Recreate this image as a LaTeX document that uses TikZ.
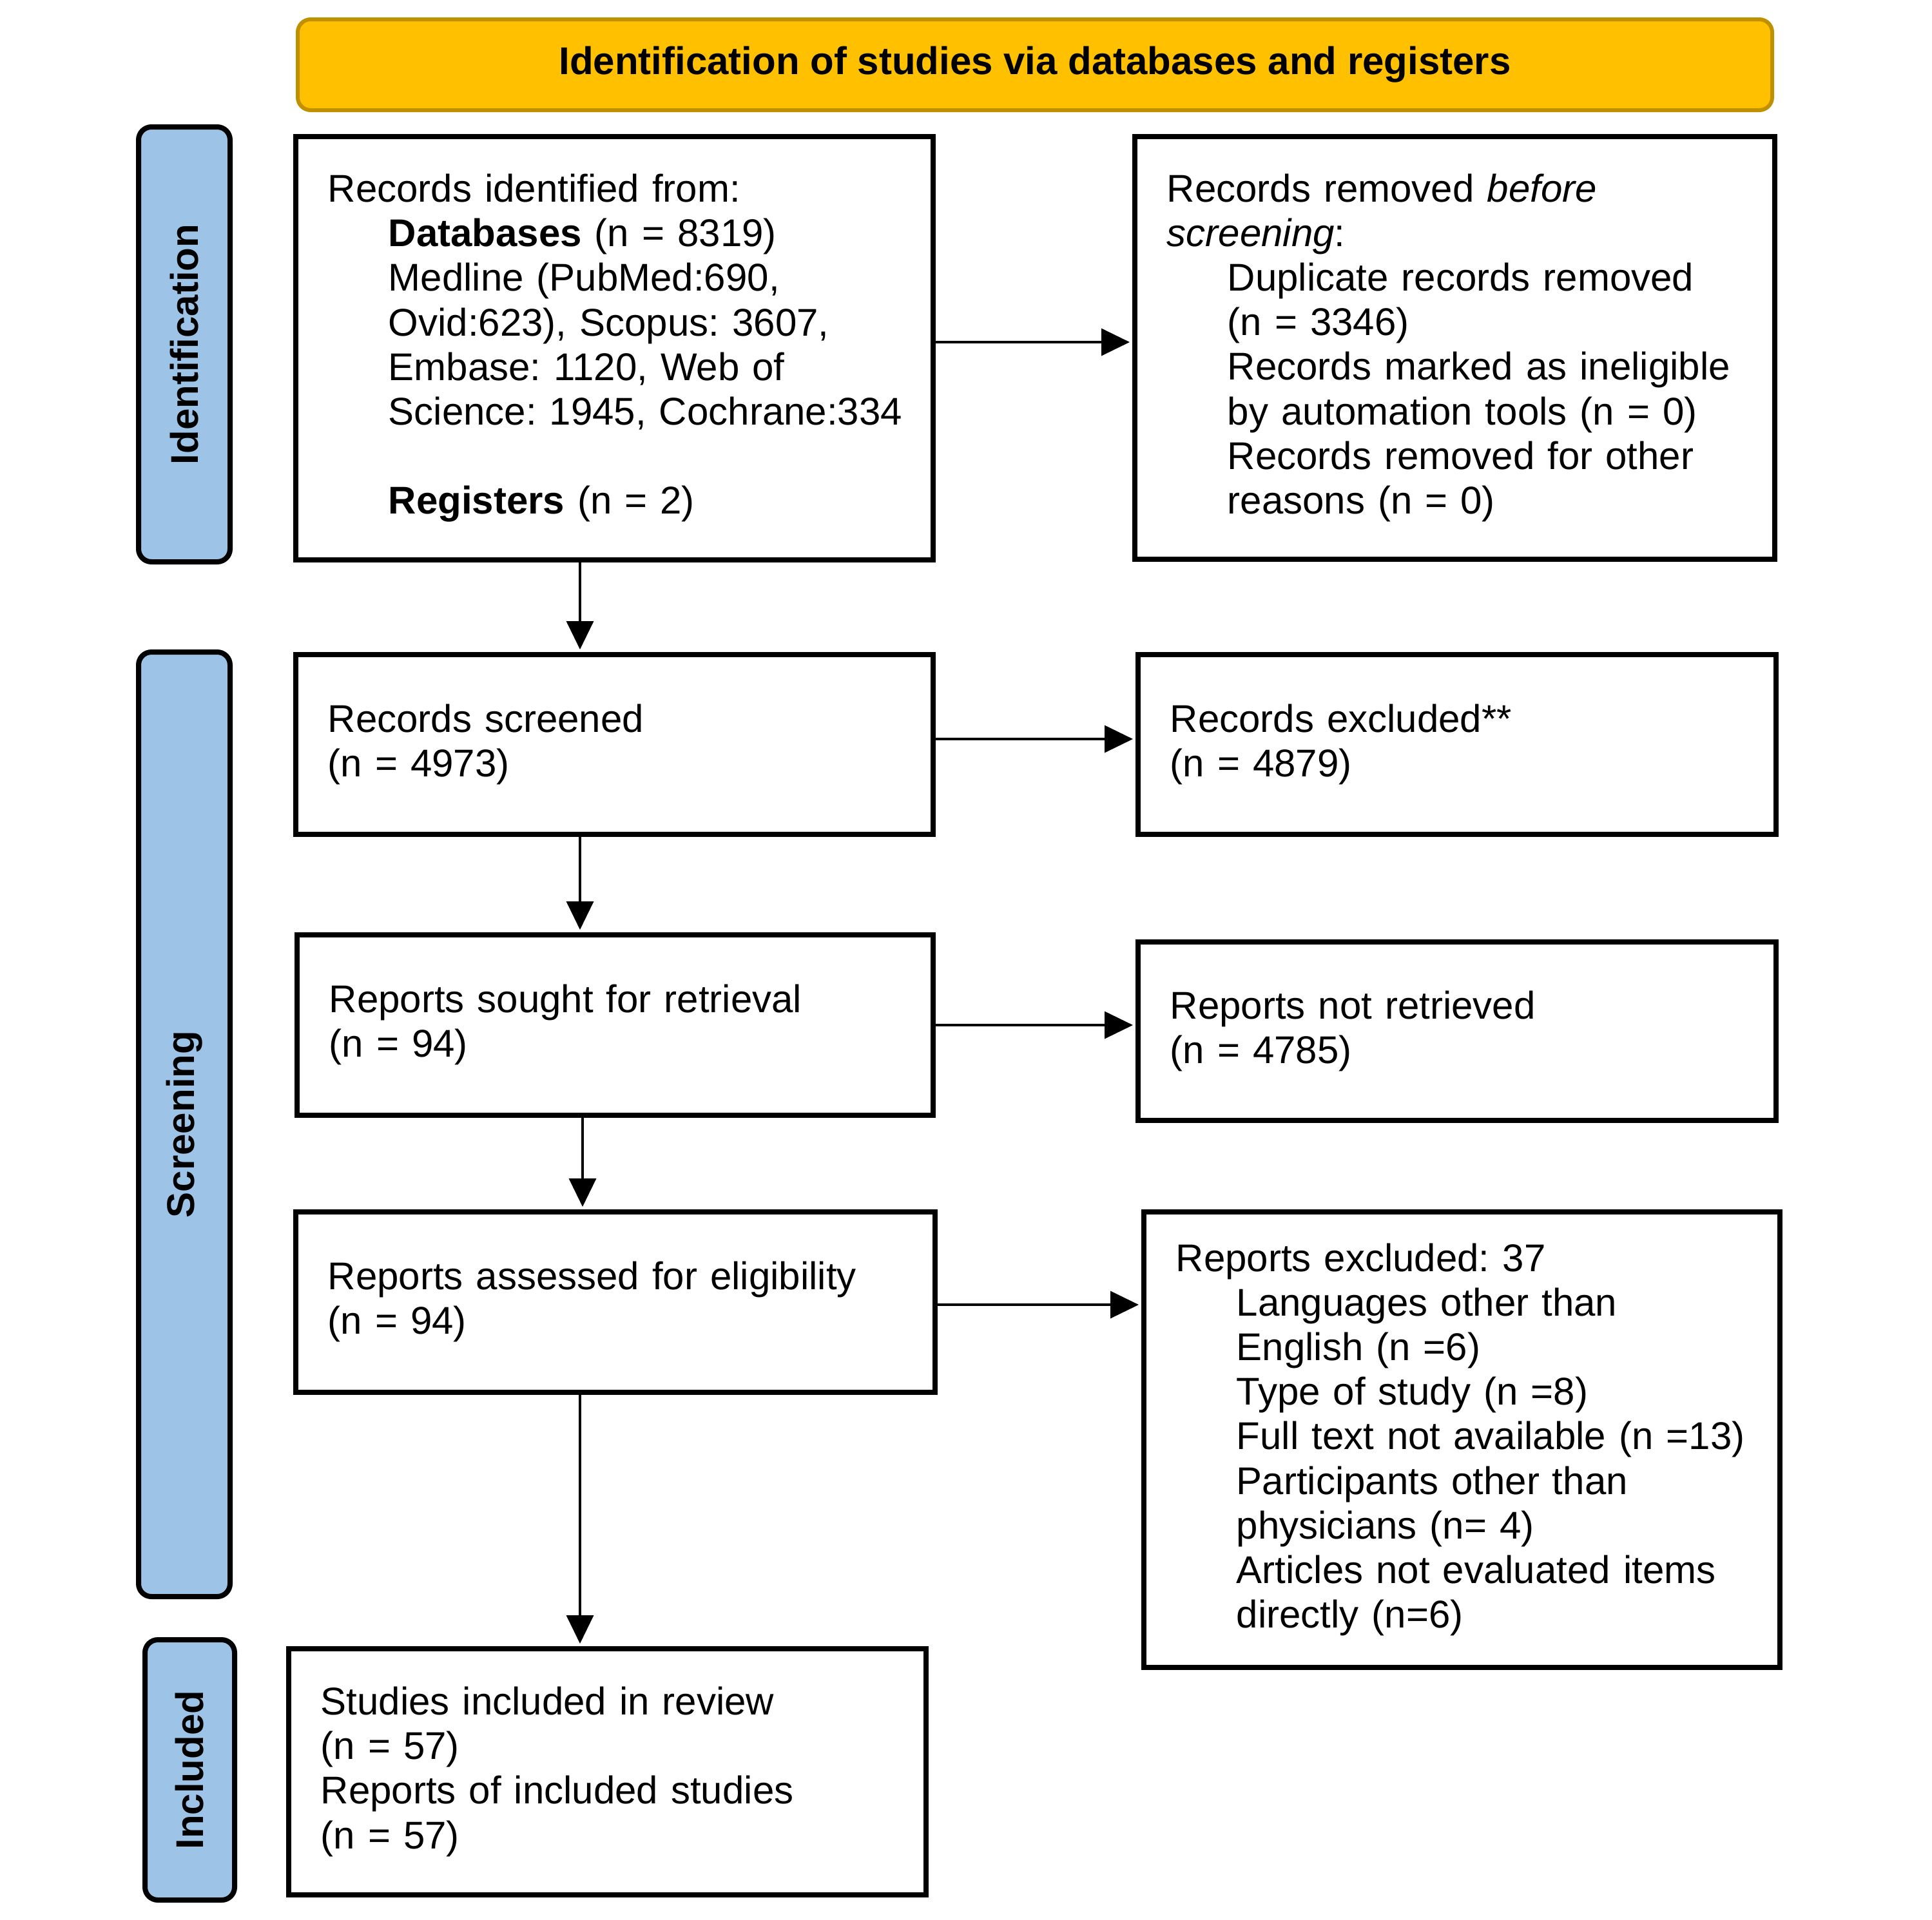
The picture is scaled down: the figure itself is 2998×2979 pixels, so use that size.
\documentclass[tikz,border=0pt]{standalone}
\usepackage{fontspec}
\setmainfont{Liberation Sans}
\usetikzlibrary{arrows.meta}
\definecolor{hdrfill}{HTML}{FFC000}
\definecolor{hdrdraw}{HTML}{BF9000}
\definecolor{barfill}{HTML}{9DC3E6}
\newcommand\ind{\hspace*{23.5pt}}
\newcommand\Lw[1]{\mbox{#1}}
\frenchspacing
\begin{document}
\begin{tikzpicture}[x=0.25pt,y=-0.25pt,
  txt/.style={font=\fontsize{15pt}{17.3pt}\selectfont},
  box/.style={txt,draw=black,line width=1.9pt,rectangle,anchor=north west,
    inner xsep=12.5pt,inner ysep=0pt,align=left},
  hdrbox/.style={draw=hdrdraw,fill=hdrfill,line width=1.5pt,rounded corners=5pt,
    minimum width=572pt,minimum height=35.25pt,anchor=north west,
    font=\fontsize{15pt}{17.3pt}\selectfont\bfseries},
  sidebar/.style={draw=black,fill=barfill,line width=2pt,rounded corners=5pt,
    rotate=90,font=\fontsize{15pt}{17.3pt}\selectfont\bfseries,inner sep=0pt},
  arr/.style={line width=0.9pt,-{Triangle[length=11pt,width=10.5pt]},shorten >=1pt}]
\useasboundingbox (0,0) rectangle (2998,2979);

\node[hdrbox] (hdr) at (459,27) {Identification of studies via databases and registers};

\node[sidebar,minimum width=168.75pt,minimum height=35.5pt] (barI) at (286,534.5) {Identification};
\node[sidebar,minimum width=366.5pt,minimum height=35.5pt] (barS) at (286,1745) {Screening};
\node[sidebar,minimum width=101pt,minimum height=34.75pt] (barN) at (294.5,2747) {Included};

\node[box,minimum width=247.25pt,minimum height=164.25pt,text width=222.25pt] (b1) at (455,208)
 {\Lw{Records identified from:}\\
  \ind\Lw{\textbf{Databases} (n = 8319)}\\
  \ind\Lw{Medline (PubMed:690,}\\
  \ind\Lw{Ovid:623), Scopus: 3607,}\\
  \ind\Lw{Embase: 1120, Web of}\\
  \ind\Lw{Science: 1945, Cochrane:334}\\[17.3pt]
  \ind\Lw{\textbf{Registers} (n = 2)}};

\node[box,minimum width=248.25pt,minimum height=164pt,text width=223.25pt] (b2) at (1757,208)
 {\Lw{Records removed \textit{before}}\\
  \Lw{\textit{screening}:}\\
  \ind\Lw{Duplicate records removed}\\
  \ind\Lw{(n = 3346)}\\
  \ind\Lw{Records marked as ineligible}\\
  \ind\Lw{by automation tools (n = 0)}\\
  \ind\Lw{Records removed for other}\\
  \ind\Lw{reasons (n = 0)}};

\node[box,minimum width=247.25pt,minimum height=69.75pt,text width=222.25pt] (b3) at (455,1012)
 {\Lw{Records screened}\\\Lw{(n = 4973)}};
\node[box,minimum width=247.5pt,minimum height=69.75pt,text width=222.5pt] (b4) at (1762,1012)
 {\Lw{Records excluded**}\\\Lw{(n = 4879)}};
\node[box,minimum width=246.75pt,minimum height=70pt,text width=221.75pt] (b5) at (457,1447)
 {\Lw{Reports sought for retrieval}\\\Lw{(n = 94)}};
\node[box,minimum width=247.5pt,minimum height=69.25pt,text width=222.5pt] (b6) at (1762,1458)
 {\Lw{Reports not retrieved}\\\Lw{(n = 4785)}};
\node[box,minimum width=248pt,minimum height=70pt,text width=223pt] (b7) at (455,1877)
 {\Lw{Reports assessed for eligibility}\\\Lw{(n = 94)}};

\node[box,minimum width=246.75pt,minimum height=176.75pt,text width=221.75pt] (b8) at (1771,1877)
 {\Lw{Reports excluded: 37}\\
  \ind\Lw{Languages other than}\\
  \ind\Lw{English (n =6)}\\
  \ind\Lw{Type of study (n =8)}\\
  \ind\Lw{Full text not available (n =13)}\\
  \ind\Lw{Participants other than}\\
  \ind\Lw{physicians (n= 4)}\\
  \ind\Lw{Articles not evaluated items}\\
  \ind\Lw{directly (n=6)}};

\node[box,minimum width=247.25pt,minimum height=95.5pt,text width=222.25pt] (b9) at (444,2555)
 {\Lw{Studies included in review}\\
  \Lw{(n = 57)}\\
  \Lw{Reports of included studies}\\
  \Lw{(n = 57)}};

\coordinate (xa) at (900,0);
\coordinate (xb) at (904,0);
\coordinate (ya) at (0,531);
\coordinate (yb) at (0,1147);
\coordinate (yc) at (0,1591);
\coordinate (yd) at (0,2025);

\draw[arr] (b1.south -| xa) -- (b3.north -| xa);
\draw[arr] (b3.south -| xa) -- (b5.north -| xa);
\draw[arr] (b5.south -| xb) -- (b7.north -| xb);
\draw[arr] (b7.south -| xa) -- (b9.north -| xa);

\draw[arr] (b1.east |- ya) -- (b2.west |- ya);
\draw[arr] (b3.east |- yb) -- (b4.west |- yb);
\draw[arr] (b5.east |- yc) -- (b6.west |- yc);
\draw[arr] (b7.east |- yd) -- (b8.west |- yd);
\end{tikzpicture}
\end{document}
